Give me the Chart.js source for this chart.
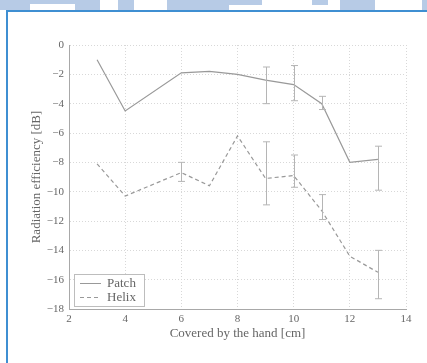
<!DOCTYPE html>
<html>
<head>
<meta charset="utf-8">
<script src="https://cdn.jsdelivr.net/npm/chart.js@4.4.1/dist/chart.umd.min.js"></script>
<style>
  html, body { margin: 0; padding: 0; background: #fff; }
  body { width: 427px; height: 363px; position: relative; overflow: hidden; }
  .band { position: absolute; top: 0; height: 10px; background: #b7cbe6; }
  .frame { position: absolute; left: 6px; top: 10px; width: 440px; height: 380px; border-left: 2px solid #3f8fd2; border-top: 2px solid #3f8fd2; box-sizing: border-box; }
  #wrap { position: absolute; left: 0; top: 0; width: 427px; height: 363px; }
</style>
</head>
<body>
<div class="band" style="left:0;width:30px"></div>
<div class="band" style="left:30px;width:45px;height:4px"></div>
<div class="band" style="left:75px;width:25px"></div>
<div class="band" style="left:118px;width:16px"></div>
<div class="band" style="left:167px;width:62px"></div>
<div class="band" style="left:229px;width:33px;height:5px"></div>
<div class="band" style="left:312px;width:16px;height:5px"></div>
<div class="band" style="left:340px;width:35px"></div>
<div class="band" style="left:422px;width:5px"></div>
<div class="frame"></div>
<div id="wrap"><canvas id="chart"></canvas></div>
<script>
// values
const coverage = [3, 4, 6, 7, 8, 9, 10, 11, 12, 13];
const patchEff = [-1.0, -4.5, -1.9, -1.8, -2.0, -2.4, -2.7, -4.0, -8.0, -7.8];
const patchErrHigh = [null, null, null, null, null, -1.5, -1.4, -3.5, null, -6.9];
const patchErrLow = [null, null, null, null, null, -4.0, -3.8, -4.4, null, -9.9];
const helixEff = [-8.1, -10.3, -8.7, -9.6, -6.2, -9.1, -8.9, -11.3, -14.4, -15.5];
const helixErrHigh = [null, null, -8.0, null, null, -6.6, -7.5, -10.2, null, -14.0];
const helixErrLow = [null, null, -9.3, null, null, -10.9, -9.7, -11.9, null, -17.3];
const xTicks = [2, 4, 6, 8, 10, 12, 14];
const yTicks = [0, -2, -4, -6, -8, -10, -12, -14, -16, -18];

const textColor = '#666';
const lineColor = '#999';
const font = { family: 'Liberation Serif', size: 11 };

function toPoints(ys) {
  return coverage.map((x, i) => ({ x: x, y: ys[i] }));
}

const errorBars = {
  id: 'errorBars',
  afterDatasetsDraw(chart) {
    const ctx = chart.ctx;
    const xs = chart.scales.x, ys = chart.scales.y;
    const sets = [[patchErrHigh, patchErrLow], [helixErrHigh, helixErrLow]];
    ctx.save();
    ctx.strokeStyle = '#b5b5b5';
    ctx.lineWidth = 1;
    sets.forEach(([hi, lo]) => {
      coverage.forEach((x, i) => {
        if (hi[i] == null) return;
        const px = Math.round(xs.getPixelForValue(x)) + 0.5;
        const y1 = ys.getPixelForValue(hi[i]);
        const y2 = ys.getPixelForValue(lo[i]);
        ctx.beginPath();
        ctx.moveTo(px, y1); ctx.lineTo(px, y2);
        ctx.moveTo(px - 3.5, y1); ctx.lineTo(px + 3.5, y1);
        ctx.moveTo(px - 3.5, y2); ctx.lineTo(px + 3.5, y2);
        ctx.stroke();
      });
    });
    ctx.restore();
  }
};

const insideLegend = {
  id: 'insideLegend',
  afterDraw(chart) {
    const ctx = chart.ctx;
    const a = chart.chartArea;
    const bx = a.left + 5, by = a.bottom - 35, bw = 70, bh = 32;
    ctx.save();
    ctx.fillStyle = '#fff';
    ctx.fillRect(bx, by, bw, bh);
    ctx.strokeStyle = '#bdbdbd';
    ctx.lineWidth = 1;
    ctx.strokeRect(bx + 0.5, by + 0.5, bw, bh);
    ctx.font = '13px "Liberation Serif"';
    ctx.textBaseline = 'middle';
    chart.data.datasets.forEach((ds, i) => {
      const y = Math.round(by + 9 + i * 14) + 0.5;
      ctx.strokeStyle = lineColor;
      ctx.setLineDash(ds.borderDash || []);
      ctx.beginPath();
      ctx.moveTo(bx + 6, y); ctx.lineTo(bx + 27, y);
      ctx.stroke();
      ctx.setLineDash([]);
      ctx.fillStyle = textColor;
      ctx.fillText(ds.label, bx + 33, y);
    });
    ctx.restore();
  }
};

new Chart(document.getElementById('chart').getContext('2d'), {
  type: 'line',
  data: {
    datasets: [
      {
        label: 'Patch',
        data: toPoints(patchEff),
        borderColor: lineColor,
        borderWidth: 1.2,
        pointRadius: 0,
        tension: 0
      },
      {
        label: 'Helix',
        data: toPoints(helixEff),
        borderColor: lineColor,
        borderWidth: 1.2,
        borderDash: [4, 3],
        pointRadius: 0,
        tension: 0
      }
    ]
  },
  options: {
    responsive: true,
    maintainAspectRatio: false,
    animation: false,
    layout: { padding: { left: 29, right: 21, top: 45, bottom: 22 } },
    plugins: { legend: { display: false }, tooltip: { enabled: false } },
    scales: {
      x: {
        type: 'linear',
        min: 2,
        max: 14,
        afterBuildTicks: (scale) => { scale.ticks = xTicks.map(v => ({ value: v })); },
        afterFit: (scale) => { scale.height = 32; },
        ticks: { color: textColor, font: font, padding: 4, maxRotation: 0 },
        grid: { color: '#d8d8d8', drawTicks: false },
        border: { color: '#a8a8a8', dash: [1, 2], width: 1 },
        title: { display: true, text: 'Covered by the hand [cm]', color: textColor, font: { family: 'Liberation Serif', size: 13 }, padding: 0 }
      },
      y: {
        min: -18,
        max: 0,
        afterBuildTicks: (scale) => { scale.ticks = yTicks.map(v => ({ value: v })); },
        afterFit: (scale) => { scale.width = 40; },
        ticks: {
          color: textColor,
          font: font,
          padding: 5,
          callback: (v) => v < 0 ? '\u2212' + Math.abs(v) : String(v)
        },
        grid: { color: '#d8d8d8', drawTicks: false },
        border: { color: '#a8a8a8', dash: [1, 2], width: 1 },
        title: { display: true, text: 'Radiation efficiency [dB]', color: textColor, font: { family: 'Liberation Serif', size: 13 }, padding: 0 }
      }
    }
  },
  plugins: [errorBars, insideLegend]
});
</script>
</body>
</html>
